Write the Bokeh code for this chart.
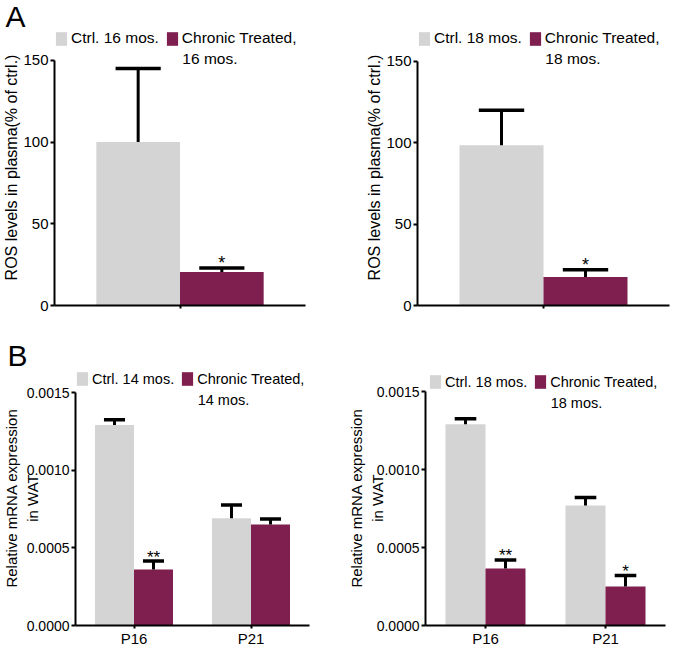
from bokeh.plotting import figure
from bokeh.models import (FactorRange, Range1d, Legend, LegendItem, Label,
                          FixedTicker, NumeralTickFormatter, ColumnDataSource)
from bokeh.transform import dodge
from bokeh.layouts import column, row
from bokeh.embed import file_html
from bokeh.resources import INLINE
from bokeh.core.properties import value

# ---------------- data ----------------
# Panel A: ROS levels in plasma (% of ctrl.)
ros_cat = ["ROS"]
ros16_ctrl = [100.0]
ros16_ctrl_err = [45.0]
ros16_trt = [20.5]
ros16_trt_err = [2.5]
ros16_sig = ["*"]

ros18_ctrl = [98.5]
ros18_ctrl_err = [21.5]
ros18_trt = [17.5]
ros18_trt_err = [4.5]
ros18_sig = ["*"]

ros_ticks = [0, 50, 100, 150]

# Panel B: relative mRNA expression in WAT
genes = ["P16", "P21"]
wat14_ctrl = [0.00129, 0.00069]
wat14_ctrl_err = [0.000035, 0.000085]
wat14_trt = [0.00036, 0.00065]
wat14_trt_err = [0.000055, 0.000035]
wat14_sig = ["**", ""]

wat18_ctrl = [0.00129, 0.00077]
wat18_ctrl_err = [0.000035, 0.00005]
wat18_trt = [0.000365, 0.00025]
wat18_trt_err = [0.000055, 0.00007]
wat18_sig = ["**", "*"]

wat_ticks = [0.0, 0.0005, 0.0010, 0.0015]

# ---------------- style ----------------
FONT = "Liberation Sans"
GRAY = "#D4D4D4"
PURPLE = "#7E1F4F"
CAP = 0.09
GLYPH_W, GLYPH_H, STANDOFF, SPACING = 14, 17, 3, 6


def panel(cats, ctrl, ctrl_err, trt, trt_err, sig, ymax, ticks, fmt,
          ylabel, ylab_size, ylab_standoff, tick_size,
          leg_ctrl, leg_trt1, leg_trt2, leg_fs, line_gap,
          W, H, bl, br, bt, bb, axis_top_px, show_x, leg_margin=0,
          letter=None, title_standoff=0, star_size=18, star_offset=0):
    # frame spans from bt to H-bb; the axis top value sits axis_top_px below the frame top
    fh = H - bt - bb
    y_hi = ymax * fh / (fh - axis_top_px)
    p = figure(x_range=FactorRange(*cats, range_padding=0),
               y_range=Range1d(0, y_hi), width=W, height=H,
               output_backend="svg", toolbar_location=None,
               min_border=0, min_border_left=bl, min_border_right=br,
               min_border_top=bt, min_border_bottom=bb)
    p.xgrid.visible = False
    p.ygrid.visible = False
    p.outline_line_color = None

    src = ColumnDataSource(dict(
        cat=cats, ctrl=ctrl, trt=trt,
        ctrl_hi=[c + e for c, e in zip(ctrl, ctrl_err)],
        trt_hi=[t + e for t, e in zip(trt, trt_err)],
        sig=sig))

    r1 = p.vbar(x=dodge("cat", -1 / 6, range=p.x_range), top="ctrl", bottom=0,
                width=1 / 3, source=src, fill_color=GRAY, line_color=None)
    r2 = p.vbar(x=dodge("cat", 1 / 6, range=p.x_range), top="trt", bottom=0,
                width=1 / 3, source=src, fill_color=PURPLE, line_color=None)

    for off, lo, hi in ((-1 / 6, "ctrl", "ctrl_hi"), (1 / 6, "trt", "trt_hi")):
        p.segment(x0=dodge("cat", off, range=p.x_range), y0=lo,
                  x1=dodge("cat", off, range=p.x_range), y1=hi,
                  source=src, line_color="black", line_width=3)
        p.segment(x0=dodge("cat", off - CAP, range=p.x_range), y0=hi,
                  x1=dodge("cat", off + CAP, range=p.x_range), y1=hi,
                  source=src, line_color="black", line_width=3.5)

    p.text(x=dodge("cat", 1 / 6, range=p.x_range), y="trt_hi", text="sig",
           source=src, text_align="center", text_baseline="alphabetic",
           y_offset=star_offset,
           text_font=value(FONT), text_font_size=f"{star_size}px",
           text_color="#000000", text_alpha=1.0)

    # axes
    for ax in (p.xaxis[0], p.yaxis[0]):
        ax.axis_line_width = 2
        ax.axis_line_color = "black"
        ax.major_tick_line_width = 2
        ax.major_tick_line_color = "black"
        ax.major_tick_in = 0
        ax.minor_tick_line_color = None
        ax.major_label_text_font = FONT
        ax.major_label_text_color = "black"
    p.yaxis.bounds = (0, ymax)
    p.yaxis.major_tick_out = 4
    p.yaxis.major_label_standoff = 2
    p.yaxis.major_label_text_font_size = tick_size
    p.yaxis.ticker = FixedTicker(ticks=ticks)
    p.yaxis.formatter = NumeralTickFormatter(format=fmt)
    p.yaxis.axis_label = ylabel
    p.yaxis.axis_label_text_font = FONT
    p.yaxis.axis_label_text_font_style = "normal"
    p.yaxis.axis_label_text_font_size = ylab_size
    p.yaxis.axis_label_text_color = "black"
    p.yaxis.axis_label_standoff = ylab_standoff

    p.xaxis.major_tick_out = 3
    p.xaxis.major_label_standoff = 1
    p.xaxis.major_label_text_font_size = "15px"
    if not show_x:
        p.xaxis.major_label_text_color = None

    legend = Legend(items=[LegendItem(label=leg_ctrl, renderers=[r1]),
                           LegendItem(label=leg_trt1, renderers=[r2])],
                    orientation="horizontal", location="top_left",
                    glyph_width=GLYPH_W, glyph_height=GLYPH_H,
                    label_standoff=STANDOFF, spacing=SPACING,
                    padding=0, margin=leg_margin,
                    border_line_color=None, background_fill_alpha=0,
                    label_text_font=FONT, label_text_font_size=f"{leg_fs}px",
                    label_text_color="black")
    p.add_layout(legend)

    # second line of the treated legend label
    ctrl_w = 5.668 * leg_fs  # width of the control label text
    x2 = leg_margin + GLYPH_W + STANDOFF + ctrl_w + SPACING + GLYPH_W + STANDOFF
    first_base = leg_margin + 10 + 0.36 * leg_fs
    p.add_layout(Label(x=x2, y=fh - (first_base + line_gap), x_units="screen",
                       y_units="screen", text=leg_trt2, text_font=FONT,
                       text_font_size=f"{leg_fs}px", text_color="black",
                       text_baseline="alphabetic"))

    if letter:
        p.title.text = letter
        p.title.text_font = FONT
        p.title.text_font_size = "30px"
        p.title.text_font_style = "normal"
        p.title.text_color = "black"
        p.title.align = "left"
        p.title.offset = 3 - bl
        p.title.standoff = title_standoff
    return p


p1 = panel(ros_cat, ros16_ctrl, ros16_ctrl_err, ros16_trt, ros16_trt_err, ros16_sig,
           150, ros_ticks, "0", "ROS levels in plasma(% of ctrl.)", "16px", 0, "15px",
           "Ctrl. 16 mos.", "Chronic Treated,", "16 mos.", 15.5, 14,
           W=345, H=330, bl=52, br=40, bt=28, bb=25, axis_top_px=31, show_x=False,
           letter="A", title_standoff=-6, star_size=18, star_offset=-5)

p2 = panel(ros_cat, ros18_ctrl, ros18_ctrl_err, ros18_trt, ros18_trt_err, ros18_sig,
           150, ros_ticks, "0", "ROS levels in plasma(% of ctrl.)", "16px", 0, "15px",
           "Ctrl. 18 mos.", "Chronic Treated,", "18 mos.", 15.5, 14,
           W=331, H=330, bl=72, br=7, bt=28, bb=25, axis_top_px=32, show_x=False,
           star_size=18, star_offset=-5)

p3 = panel(genes, wat14_ctrl, wat14_ctrl_err, wat14_trt, wat14_trt_err, wat14_sig,
           0.0015, wat_ticks, "0.0000", "Relative mRNA expression\nin WAT", "15px", -17, "14px",
           "Ctrl. 14 mos.", "Chronic Treated,", "14 mos.", 14.5, 14,
           W=345, H=319, bl=71, br=36, bt=40, bb=24, axis_top_px=22, show_x=True,
           letter="B", title_standoff=-3, star_size=17, star_offset=-4)

p4 = panel(genes, wat18_ctrl, wat18_ctrl_err, wat18_trt, wat18_trt_err, wat18_sig,
           0.0015, wat_ticks, "0.0000", "Relative mRNA expression\nin WAT", "15px", -12, "14px",
           "Ctrl. 18 mos.", "Chronic Treated,", "18 mos.", 14.5, 14,
           W=331, H=319, bl=78, br=11, bt=40, bb=24, axis_top_px=21, show_x=True,
           leg_margin=3, star_size=17, star_offset=-4)

layout = column(row(p1, p2), row(p3, p4))
open("out.html", "w").write(file_html(layout, INLINE))
